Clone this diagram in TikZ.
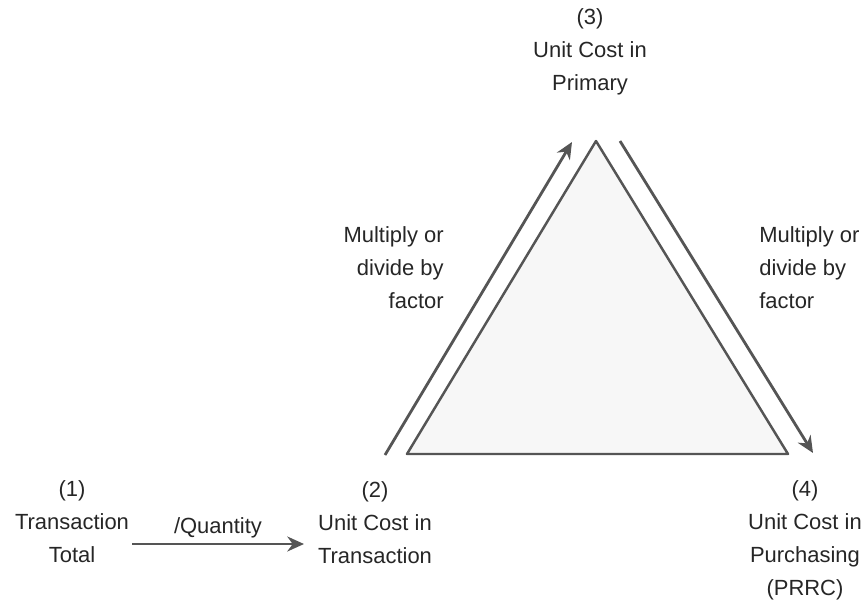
\documentclass[tikz,border=0pt]{standalone}
\usepackage{fontspec}
\setmainfont{Liberation Sans}
\usetikzlibrary{positioning,arrows.meta}
\tikzset{>={Stealth[length=9.5pt,width=8.5pt]}}
\definecolor{edge}{HTML}{555555}
\definecolor{txt}{HTML}{262626}
\definecolor{tri}{HTML}{F7F7F7}

\begin{document}
\begin{tikzpicture}[x=0.02cm,y=-0.02cm,
  lbl/.style={align=center,text=txt,inner sep=0pt,
    font=\fontsize{12.5}{18.8}\selectfont},
  conv/.style={->,draw=edge,line width=1.6pt}]
\useasboundingbox (0,0) rectangle (867,603);
% triangle
\coordinate (L) at (407,454);
\coordinate (T) at (596,141);
\coordinate (R) at (788,454);
\filldraw[fill=tri,draw=edge,line width=1.4pt,line join=round] (L) -- (T) -- (R) -- cycle;
% conversion steps
\coordinate (a1) at (385,455);
\coordinate (a2) at (572,142);
\coordinate (b1) at (620,141);
\coordinate (b2) at (813,453);
\coordinate (q1) at (132,544);
\coordinate (q2) at (304,544);
\node[lbl] (t1) at (72,522) {(1)\\Transaction\\Total};
\node[lbl] (t2) at (375,523) {(2)\\Unit Cost in\\Transaction};
\node[lbl] (t3) at (590,52) {(3)\\Unit Cost in\\Primary};
\node[lbl] (t4) at (805,540) {(4)\\Unit Cost in\\Purchasing\\(PRRC)};
\node[lbl,align=right,anchor=east] (f1) at (444,268) {Multiply or\\divide by\\factor};
\node[lbl,align=left,anchor=west] (f2) at (759,268) {Multiply or\\divide by\\factor};
\draw[conv] (a1) -- (a2);
\draw[conv] (b1) -- (b2);
\draw[conv] (q1) -- node[lbl,above=0.1cm] (qty) {/Quantity} (q2);
\end{tikzpicture}
\end{document}
